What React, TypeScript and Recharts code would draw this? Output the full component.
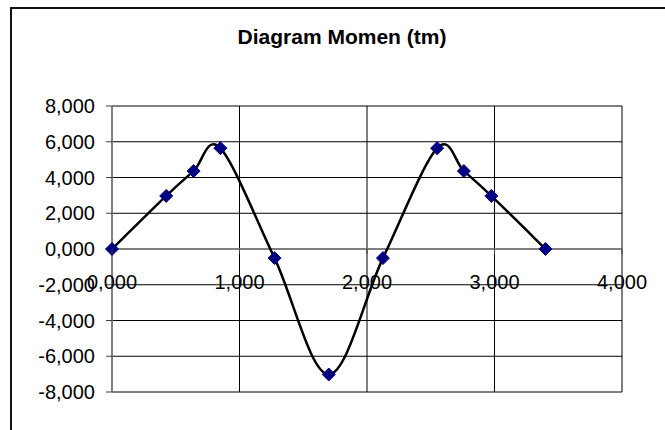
import React from 'react';
import { LineChart, Line, XAxis, YAxis, CartesianGrid, ReferenceLine } from 'recharts';

// ---- data ----
const positions = [0, 0.425, 0.64, 0.85, 1.275, 1.7, 2.125, 2.55, 2.76, 2.975, 3.4];
const moments = [0, 2.97, 4.36, 5.64, -0.51, -7.02, -0.51, 5.64, 4.36, 2.97, 0];
const xTicks = [0, 1, 2, 3, 4];
const yTicks = [-8, -6, -4, -2, 0, 2, 4, 6, 8];
const title = 'Diagram Momen (tm)';

const data = positions.map((x, i) => ({ x, m: moments[i] }));

// ---- layout ----
const W = 665;
const H = 430;
const M_TOP = 106;
const X_AXIS_H = 30;
const M_BOTTOM = 38 - X_AXIS_H;
const M_RIGHT = 43;
const Y_AXIS_W = 112;
const PLOT_H = H - M_TOP - M_BOTTOM - X_AXIS_H;
const Y_MIN = -8;
const Y_MAX = 8;
const ZERO_Y = M_TOP + (PLOT_H * (Y_MAX - 0)) / (Y_MAX - Y_MIN);
const FONT = '"Liberation Sans", Arial, sans-serif';

const fmt = (v: number) => v.toFixed(3).replace('.', ',');

// Excel-like smoothing (Catmull-Rom through the points)
const smoothCurve: any = (context: any) => {
  let pts: number[][] = [];
  return {
    areaStart() {},
    areaEnd() {},
    lineStart() {
      pts = [];
    },
    lineEnd() {
      const n = pts.length;
      if (!n) return;
      context.moveTo(pts[0][0], pts[0][1]);
      for (let i = 0; i < n - 1; i++) {
        const p0 = pts[i - 1] || pts[i];
        const p1 = pts[i];
        const p2 = pts[i + 1];
        const p3 = pts[i + 2] || p2;
        context.bezierCurveTo(
          p1[0] + (p2[0] - p0[0]) / 6,
          p1[1] + (p2[1] - p0[1]) / 6,
          p2[0] - (p3[0] - p1[0]) / 6,
          p2[1] - (p3[1] - p1[1]) / 6,
          p2[0],
          p2[1]
        );
      }
    },
    point(x: number, y: number) {
      pts.push([+x, +y]);
    },
  };
};

const Diamond = (props: any) => {
  const { cx, cy, index } = props;
  if (cx == null || cy == null) return <g key={`d-${index}`} />;
  const r = 6.5;
  return (
    <path
      key={`d-${index}`}
      d={`M${cx},${cy - r}L${cx + r},${cy}L${cx},${cy + r}L${cx - r},${cy}Z`}
      fill="#000080"
      stroke="#000080"
      strokeWidth={1}
    />
  );
};

const XTick = (props: any) => {
  const { x, payload } = props;
  return (
    <g>
      <line x1={x} x2={x} y1={ZERO_Y} y2={ZERO_Y + 5} stroke="#404040" strokeWidth={1} />
      <text x={x} y={ZERO_Y + 40} textAnchor="middle" fontSize={20} fontFamily={FONT} fill="#000">
        {fmt(payload.value)}
      </text>
    </g>
  );
};

export default function App() {
  return (
    <div
      style={{
        position: 'absolute',
        left: 0,
        top: 0,
        width: W,
        height: H,
        overflow: 'hidden',
        background: '#fff',
      }}
    >
      <div
        style={{
          position: 'absolute',
          left: 10,
          top: 7,
          width: 720,
          height: 520,
          borderTop: '2px solid #111',
          borderLeft: '2px solid #111',
        }}
      />
      <div
        style={{
          position: 'absolute',
          left: 342 - 200,
          top: 26,
          width: 400,
          textAlign: 'center',
          fontFamily: FONT,
          fontWeight: 'bold',
          fontSize: 21,
          lineHeight: '21px',
          color: '#000',
          zIndex: 2,
        }}
      >
        {title}
      </div>
      <div style={{ position: 'absolute', left: 0, top: 0, zIndex: 1 }}>
        <LineChart
          width={W}
          height={H}
          data={data}
          margin={{ top: M_TOP, right: M_RIGHT, bottom: M_BOTTOM, left: 0 }}
        >
          <CartesianGrid stroke="#000" strokeWidth={1} />
          <XAxis
            type="number"
            dataKey="x"
            domain={[0, 4]}
            ticks={xTicks}
            axisLine={false}
            tickLine={false}
            height={X_AXIS_H}
            tick={(p: any) => <XTick {...p} />}
            interval={0}
          />
          <YAxis
            type="number"
            domain={[Y_MIN, Y_MAX]}
            ticks={yTicks}
            width={Y_AXIS_W}
            interval={0}
            tickFormatter={fmt}
            axisLine={{ stroke: '#808080', strokeWidth: 1.5 }}
            tickLine={{ stroke: '#404040', strokeWidth: 1 }}
            tickSize={6}
            tickMargin={11}
            tick={{ fontSize: 20, fontFamily: FONT, fill: '#000' }}
          />
          <ReferenceLine y={0} stroke="#808080" strokeWidth={1.5} />
          <Line
            dataKey="m"
            type={smoothCurve}
            stroke="#000"
            strokeWidth={2.5}
            dot={Diamond}
            activeDot={false}
            isAnimationActive={false}
          />
        </LineChart>
      </div>
    </div>
  );
}
